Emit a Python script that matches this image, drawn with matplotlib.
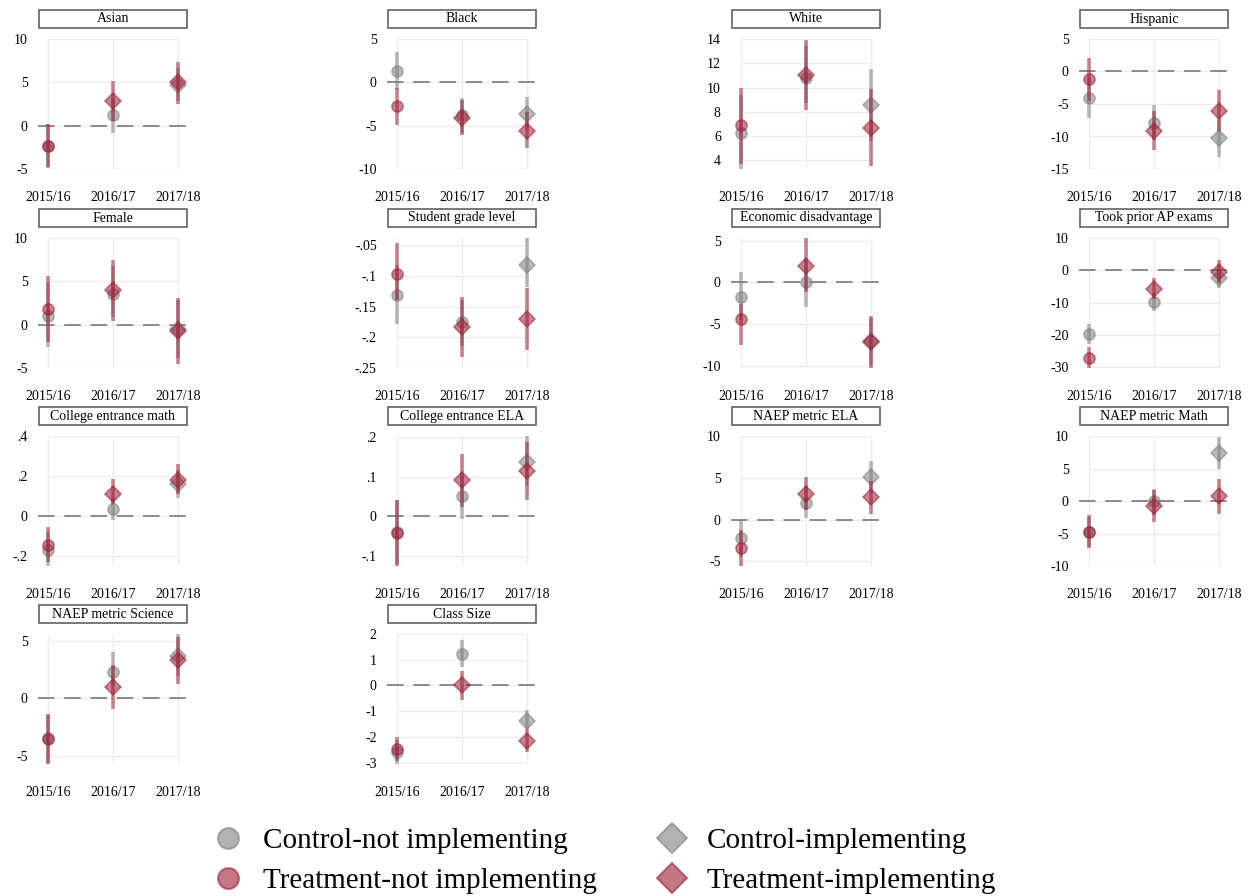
import numpy as np
import matplotlib.pyplot as plt
from matplotlib.patches import Rectangle
from matplotlib.lines import Line2D

plt.rcParams['font.family'] = ['Liberation Serif', 'DejaVu Serif']

years = ["2015/16", "2016/17", "2017/18"]
panels = ["Asian", "Black", "White", "Hispanic",
          "Female", "Student grade level", "Economic disadvantage", "Took prior AP exams",
          "College entrance math", "College entrance ELA", "NAEP metric ELA", "NAEP metric Math",
          "NAEP metric Science", "Class Size"]

# estimates and confidence bounds, one row per panel, one entry per year
ctrl_est = [[-2.3, 1.2, 4.65], [1.3, -3.8, -3.6], [6.3, 10.8, 8.55], [-4.15, -7.85, -10.3],
            [1.05, 3.5, -0.5], [-0.131, -0.176, -0.082], [-1.8, 0.0, -7.1], [-19.9, -9.85, -2.5],
            [-0.168, 0.037, 0.162], [-0.04, 0.052, 0.137], [-2.25, 1.95, 5.1], [-4.7, -0.05, 7.35],
            [-3.5, 2.27, 3.72], [-2.6, 1.23, -1.39]]
ctrl_lo = [[-4.9, -0.8, 2.8], [-0.8, -5.8, -5.5], [3.3, 8.7, 5.6], [-7.2, -10.5, -13.1],
           [-2.6, 0.85, -3.8], [-0.178, -0.215, -0.1185], [-4.5, -3.0, -9.9], [-23.0, -12.6, -5.6],
           [-0.25, -0.022, 0.092], [-0.12, -0.007, 0.075], [-4.5, 0.25, 3.2], [-7.0, -2.2, 5.0],
           [-5.6, 1.1, 1.9], [-3.05, 0.71, -1.69]]
ctrl_hi = [[0.2, 3.2, 6.6], [3.5, -1.8, -1.65], [9.4, 13.4, 11.5], [-1.0, -5.2, -7.5],
           [4.9, 6.8, 2.8], [-0.083, -0.14, -0.0386], [1.2, 2.8, -4.3], [-16.6, -6.9, 0.6],
           [-0.08, 0.095, 0.23], [0.04, 0.11, 0.202], [0.0, 4.0, 7.05], [-2.4, 1.9, 9.8],
           [-1.5, 4.0, 5.6], [-2.1, 1.78, -0.95]]
trt_est = [[-2.4, 2.8, 5.0], [-2.7, -4.15, -5.6], [6.9, 11.0, 6.7], [-1.2, -9.2, -6.1],
           [1.75, 4.0, -0.7], [-0.0967, -0.1826, -0.17], [-4.45, 2.0, -7.15], [-27.2, -5.9, -0.5],
           [-0.147, 0.112, 0.182], [-0.042, 0.091, 0.113], [-3.45, 3.1, 2.75], [-4.75, -0.7, 0.75],
           [-3.55, 0.96, 3.3], [-2.47, 0.0, -2.14]]
trt_lo = [[-4.8, 0.5, 2.5], [-4.9, -6.1, -7.6], [3.7, 8.15, 3.55], [-4.5, -12.1, -9.2],
          [-2.0, 0.46, -4.5], [-0.14, -0.2315, -0.221], [-7.5, -1.2, -10.3], [-30.3, -8.8, -3.8],
          [-0.23, 0.06, 0.112], [-0.125, 0.024, 0.041], [-5.55, 1.2, 0.65], [-7.2, -3.2, -1.95],
          [-5.73, -0.93, 1.25], [-2.92, -0.58, -2.6]]
trt_hi = [[0.23, 5.1, 7.35], [-0.6, -2.0, -3.4], [10.0, 13.9, 9.9], [2.15, -6.1, -2.9],
          [5.6, 7.5, 3.1], [-0.047, -0.135, -0.12], [-2.6, 5.35, -4.05], [-23.7, -2.5, 3.1],
          [-0.055, 0.187, 0.258], [0.042, 0.156, 0.186], [-1.3, 5.05, 4.6], [-2.2, 1.7, 3.4],
          [-1.37, 2.9, 5.35], [-1.99, 0.55, -1.7]]

# implementing status by year (controls switch one year later)
ctrl_impl = [False, False, True]
trt_impl = [False, True, True]

yticks = [[10, 5, 0, -5], [5, 0, -5, -10], [14, 12, 10, 8, 6, 4], [5, 0, -5, -10, -15],
          [10, 5, 0, -5], [-0.05, -0.1, -0.15, -0.2, -0.25], [5, 0, -5, -10], [10, 0, -10, -20, -30],
          [0.4, 0.2, 0, -0.2], [0.2, 0.1, 0, -0.1], [10, 5, 0, -5], [10, 5, 0, -5, -10],
          [5, 0, -5], [2, 1, 0, -1, -2, -3]]
ytick_labels = [["10", "5", "0", "-5"], ["5", "0", "-5", "-10"], ["14", "12", "10", "8", "6", "4"],
                ["5", "0", "-5", "-10", "-15"], ["10", "5", "0", "-5"],
                ["-.05", "-.1", "-.15", "-.2", "-.25"], ["5", "0", "-5", "-10"],
                ["10", "0", "-10", "-20", "-30"], [".4", ".2", "0", "-.2"], [".2", ".1", "0", "-.1"],
                ["10", "5", "0", "-5"], ["10", "5", "0", "-5", "-10"], ["5", "0", "-5"],
                ["2", "1", "0", "-1", "-2", "-3"]]

grey = '#7f7f7f'
red = '#9e1f36'

W, H = 1251, 896
fig = plt.figure(figsize=(W / 100, H / 100), dpi=100)

col_x = [48, 397, 741, 1089]
row_y = [39, 238, 436, 634]
pw, ph = 130, 130
padl, padr = 10.5, 11.5


def draw_series(ax, x, est, lo, hi, impl, color, z):
    ax.vlines(x, lo, hi, color=color, lw=2.6, alpha=0.55, zorder=z)
    impl = np.array(impl)
    est = np.array(est)
    ax.plot(x[~impl], est[~impl], 'o', ms=8, color=color, alpha=0.55,
            mec=color, mew=1.2, zorder=z + 1)
    ax.plot(x[impl], est[impl], 'D', ms=8.5, color=color, alpha=0.55,
            mec=color, mew=1.2, zorder=z + 1)


x = np.arange(3)
for i, name in enumerate(panels):
    r, c = divmod(i, 4)
    left = col_x[c] - padl
    ax = fig.add_axes([left / W, 1 - (row_y[r] + ph) / H, (pw + padl + padr) / W, ph / H])
    ax.set_facecolor('none')
    ax.set_xlim(-padl / pw * 2, 2 + padr / pw * 2)
    lo = min(min(yticks[i]), min(ctrl_lo[i]), min(trt_lo[i]))
    hi = max(max(yticks[i]), max(ctrl_hi[i]), max(trt_hi[i]))
    ax.set_ylim(lo, hi)
    for s in ax.spines.values():
        s.set_visible(False)

    ax.hlines(yticks[i], 0, 2, color='#ececec', lw=1, zorder=0)
    ax.vlines(x, lo, hi, color='#ececec', lw=1, zorder=0)
    if lo < 0 < hi:
        ax.axhline(0, color='#8a8a8a', lw=1.4, dashes=(8.5, 5), zorder=1)

    draw_series(ax, x, ctrl_est[i], ctrl_lo[i], ctrl_hi[i], ctrl_impl, grey, 2)
    draw_series(ax, x, trt_est[i], trt_lo[i], trt_hi[i], trt_impl, red, 4)

    ax.set_xticks(x, years)
    ax.set_yticks(yticks[i], ytick_labels[i])
    ax.tick_params(axis='x', length=0, labelsize=10, pad=16)
    ax.tick_params(axis='y', length=0, labelsize=10, pad=7)

    # boxed panel title
    bw, bh = 148, 18
    bx = col_x[c] + pw / 2 - bw / 2
    by = row_y[r] - 11
    fig.patches.append(Rectangle((bx / W, 1 - by / H), bw / W, bh / H, transform=fig.transFigure,
                                 facecolor='white', edgecolor='#555555', lw=1.1))
    fig.text((bx + bw / 2) / W, 1 - (by - bh / 2) / H, name, ha='center', va='center', fontsize=10)

handles = [
    Line2D([], [], ls='none', marker='o', ms=15, color=grey, alpha=0.6, mew=1.5),
    Line2D([], [], ls='none', marker='o', ms=15, color=red, alpha=0.6, mew=1.5),
    Line2D([], [], ls='none', marker='D', ms=15, color=grey, alpha=0.6, mew=1.5),
    Line2D([], [], ls='none', marker='D', ms=15, color=red, alpha=0.6, mew=1.5),
]
labels = ["Control-not implementing", "Treatment-not implementing",
          "Control-implementing", "Treatment-implementing"]
fig.legend(handles, labels, ncol=2, loc='center left', bbox_to_anchor=(187 / W, 1 - 861 / H),
           frameon=False, fontsize=21, handlelength=1.0, handletextpad=0.7,
           columnspacing=2.07, labelspacing=0.47)

fig.savefig('out.png', dpi=100)
